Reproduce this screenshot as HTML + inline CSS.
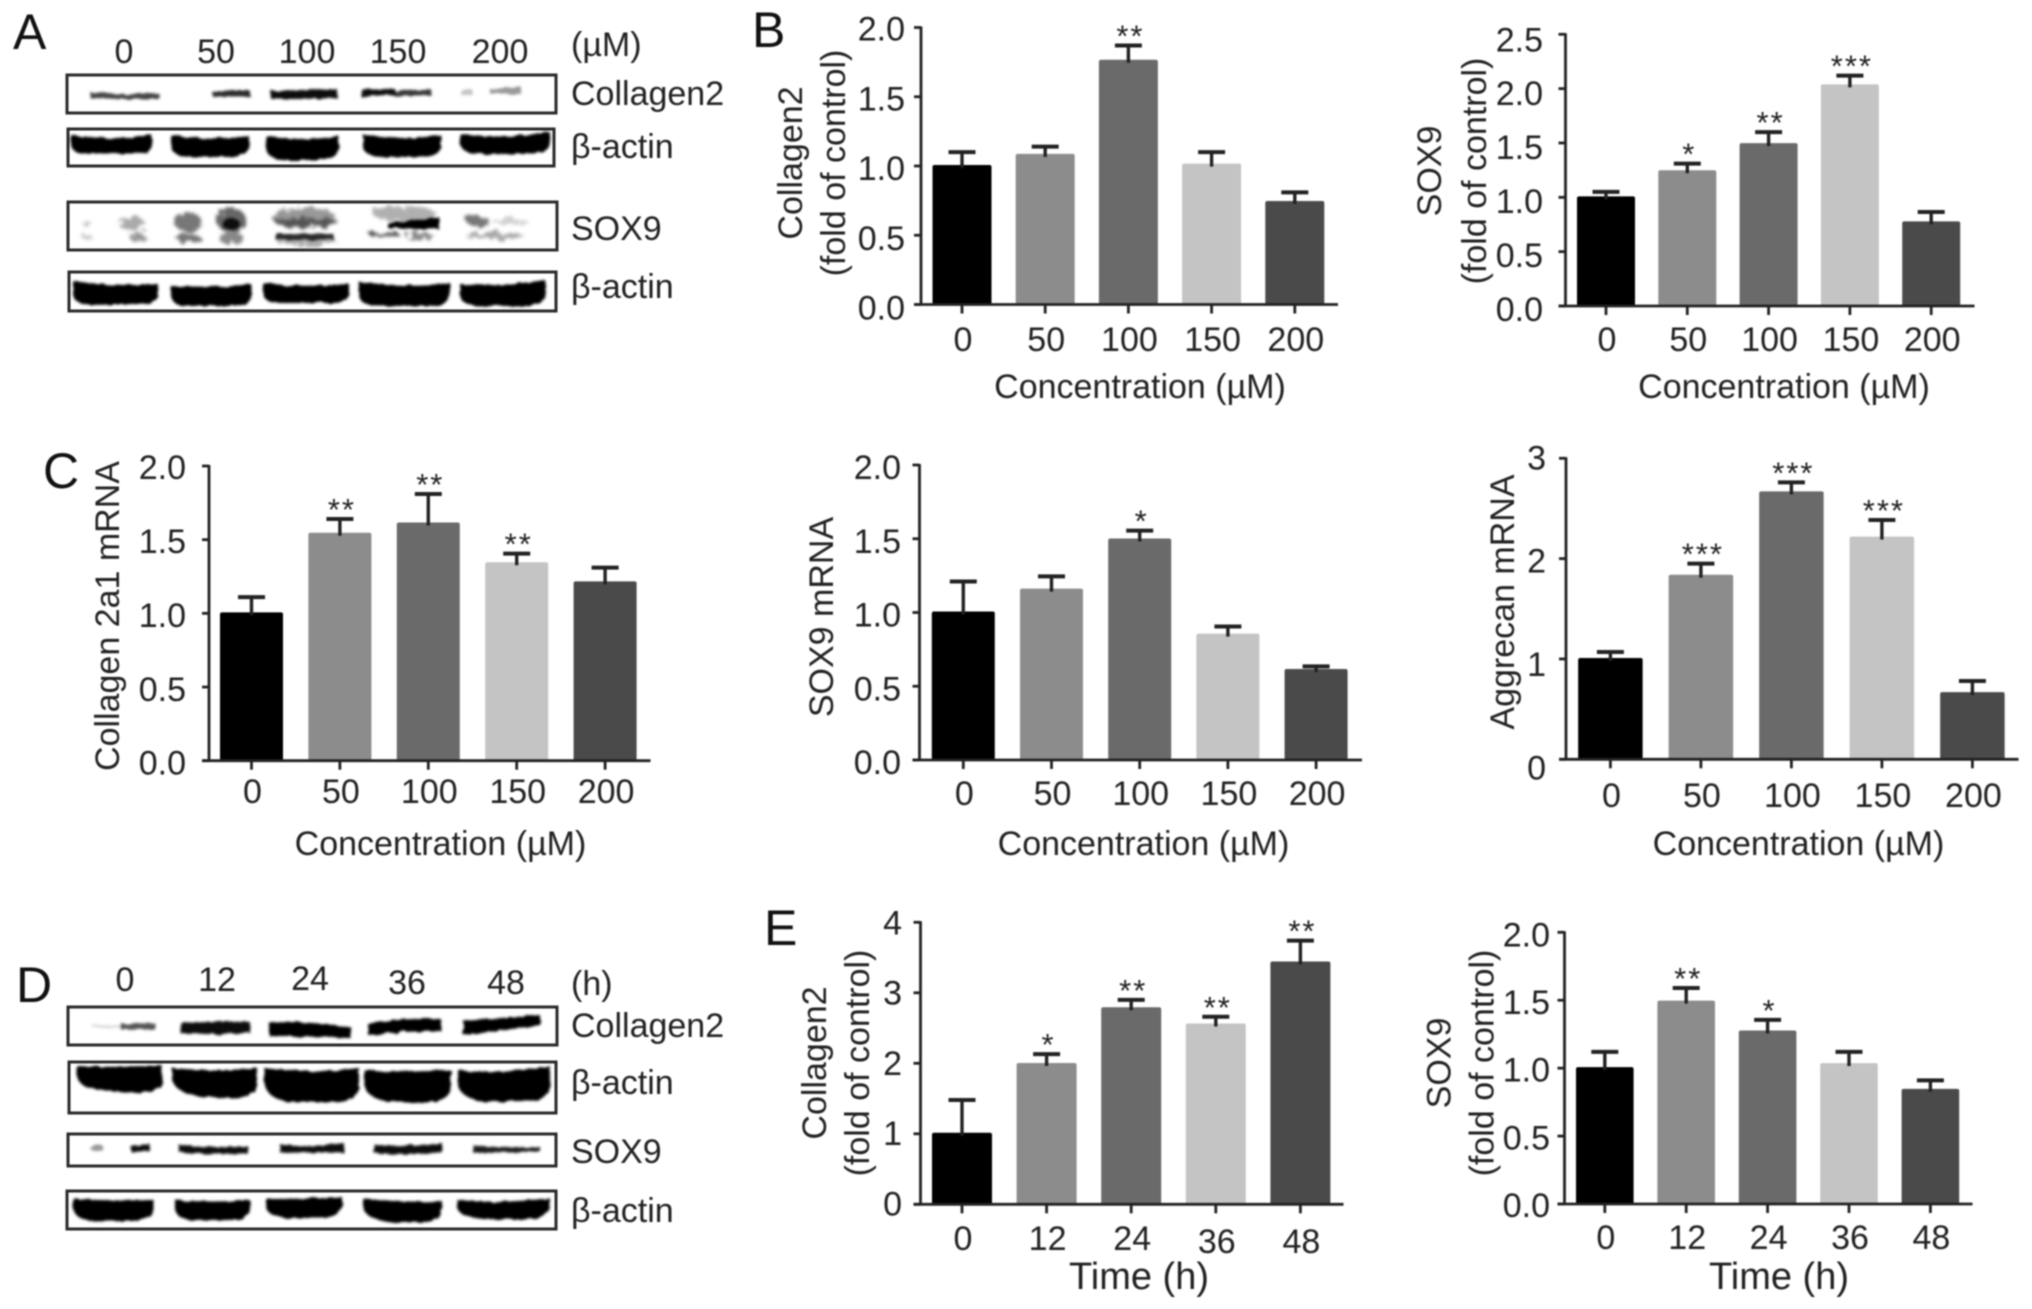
<!DOCTYPE html>
<html lang="en">
<head>
<meta charset="utf-8">
<title>Western blots and bar charts</title>
<style>
html,body{margin:0;padding:0;background:#fff;width:2032px;height:1309px;overflow:hidden}
svg{display:block;filter:blur(0.8px)}
text{font-family:"Liberation Sans",sans-serif;fill:#222}
.t{font-size:34px;dominant-baseline:central}
.p{font-size:50px;fill:#111}
.f{fill:#fff;stroke:#2a2a2a;stroke-width:3}
</style>
</head>
<body>
<svg id="fig" xmlns="http://www.w3.org/2000/svg" width="2032" height="1309" viewBox="0 0 2032 1309">
<defs>
<filter id="b1" x="-20%" y="-50%" width="140%" height="200%">
<feTurbulence type="fractalNoise" baseFrequency="0.12" numOctaves="2" seed="4" result="n"/>
<feDisplacementMap in="SourceGraphic" in2="n" scale="4" result="d"/>
<feGaussianBlur in="d" stdDeviation="1.3"/>
</filter>
<filter id="b2" x="-30%" y="-80%" width="160%" height="260%">
<feTurbulence type="fractalNoise" baseFrequency="0.14" numOctaves="3" seed="9" result="n"/>
<feDisplacementMap in="SourceGraphic" in2="n" scale="13" result="d"/>
<feGaussianBlur in="d" stdDeviation="1.7"/>
</filter>
</defs>
<rect width="2032" height="1309" fill="#fff"/>

<text class="p" x="13" y="49">A</text>
<text class="p" x="752" y="47">B</text>
<text class="p" x="43" y="488">C</text>
<text class="p" x="16" y="1002">D</text>
<text class="p" x="764" y="945">E</text>

<g>
<g text-anchor="middle">
<text class="t" x="124" y="52">0</text>
<text class="t" x="216" y="52">50</text>
<text class="t" x="307" y="52">100</text>
<text class="t" x="398" y="52">150</text>
<text class="t" x="500" y="52">200</text>
</g>
<text class="t" x="571" y="45">(µM)</text>
<text class="t" x="571" y="94">Collagen2</text>
<text class="t" x="571" y="147">β-actin</text>
<text class="t" x="571" y="229">SOX9</text>
<text class="t" x="571" y="287">β-actin</text>

<rect class="f" x="67" y="75" width="489" height="38"/>
<g filter="url(#b1)">
<path d="M90 92L125 94L159 93L159 99L125 99L90 98Z" fill="#444"/>
<path d="M212 92L232 90L250 90L250 97L232 97L212 96Z" fill="#2a2a2a"/>
<path d="M271 91L300 90L337 89L337 98L300 99L271 99Z" fill="#0a0a0a"/>
<path d="M361 89L395 89L395 95L361 97Z" fill="#0f0f0f"/>
<path d="M395 91L431 89L431 96L395 96Z" fill="#383838"/>
<path d="M461 90L473 90L473 95L461 95Z" fill="#c4c4c4"/>
<path d="M490 89L521 87L521 94L490 94Z" fill="#999"/>
</g>

<rect class="f" x="68" y="129" width="486" height="37"/>
<g filter="url(#b1)" fill="#050505">
<path d="M71 135Q111 141 152 135L152 144Q152 154 134 154L90 154Q71 154 71 144Z"/>
<path d="M171 135Q210 141 249 136L249 145Q249 157 228 157L192 157Q171 157 171 145Z"/>
<path d="M266 136Q302 142 339 136L339 147Q339 160 316 160L288 160Q266 160 266 147Z"/>
<path d="M363 135Q402 141 441 135L441 145Q441 157 420 157L384 157Q363 157 363 145Z"/>
<path d="M460 134Q505 139 550 132L550 142Q550 154 528 154L482 154Q460 154 460 142Z"/>
</g>

<rect class="f" x="68" y="202" width="489" height="48"/>
<g>
<g filter="url(#b2)">
<ellipse cx="88" cy="224" rx="5" ry="3" fill="#ccc"/>
<ellipse cx="132" cy="224" rx="13" ry="7" fill="#aaa"/>
<ellipse cx="88" cy="238" rx="5" ry="3" fill="#ccc"/>
<ellipse cx="138" cy="238" rx="8" ry="4" fill="#999"/>
<ellipse cx="188" cy="222" rx="13" ry="10" fill="#777"/>
<ellipse cx="231" cy="220" rx="15" ry="12" fill="#666"/>
<ellipse cx="188" cy="238" rx="13" ry="4" fill="#777"/>
<ellipse cx="231" cy="238" rx="12" ry="7" fill="#888"/>
<ellipse cx="305" cy="218" rx="32" ry="11" fill="#999"/>
<ellipse cx="305" cy="222" rx="30" ry="5" fill="#555"/>
<ellipse cx="305" cy="240" rx="30" ry="5" fill="#aaa"/>
<ellipse cx="405" cy="214" rx="32" ry="8" fill="#b0b0b0"/>
<ellipse cx="385" cy="235" rx="15" ry="3" fill="#555"/>
<ellipse cx="420" cy="236" rx="15" ry="3" fill="#888"/>
<ellipse cx="478" cy="221" rx="11" ry="6" fill="#777"/>
<ellipse cx="510" cy="222" rx="18" ry="3" fill="#d0d0d0"/>
<ellipse cx="495" cy="236" rx="29" ry="3" fill="#a8a8a8"/>
</g>
<g filter="url(#b1)">
<path d="M276 234L334 234L334 240L276 240Z" fill="#2a2a2a"/>
<ellipse cx="231" cy="224" rx="9" ry="6" fill="#111"/>
<path d="M388 223L410 221L439 217L439 229L388 228Z" fill="#050505"/>
</g>
</g>

<rect class="f" x="69" y="272" width="487" height="39"/>
<g filter="url(#b1)" fill="#050505">
<path d="M73 281Q115 287 158 284L158 294Q158 305 138 304L92 305Q73 305 73 293Z"/>
<path d="M171 286Q211 289 251 284L251 295Q251 306 232 306L190 306Q171 306 171 295Z"/>
<path d="M263 283Q306 288 349 284L349 293Q349 303 330 303L282 303Q263 303 263 293Z"/>
<path d="M359 282Q405 288 450 283L450 294Q450 306 430 306L379 306Q359 306 359 294Z"/>
<path d="M460 284Q500 287 545 280L545 294Q545 306 525 306L480 306Q460 306 460 294Z"/>
</g>
</g>

<g>
<g text-anchor="middle">
<text class="t" x="125" y="980">0</text>
<text class="t" x="217" y="980">12</text>
<text class="t" x="310" y="979">24</text>
<text class="t" x="407" y="983">36</text>
<text class="t" x="506" y="983">48</text>
</g>
<text class="t" x="571" y="984">(h)</text>
<text class="t" x="571" y="1026">Collagen2</text>
<text class="t" x="571" y="1083">β-actin</text>
<text class="t" x="571" y="1152">SOX9</text>
<text class="t" x="571" y="1211">β-actin</text>

<rect class="f" x="68" y="1007" width="489" height="38"/>
<g filter="url(#b1)">
<path d="M92 1025L121 1025L121 1028L92 1028Z" fill="#ddd"/>
<path d="M121 1024L155 1023L155 1029L121 1030Z" fill="#555"/>
<path d="M180 1023Q215 1020 250 1022L250 1033Q215 1035 180 1033Z" fill="#0a0a0a"/>
<path d="M269 1023Q300 1020 351 1027L351 1038Q300 1037 269 1036Z" fill="#050505"/>
<path d="M368 1023Q405 1017 441 1019L441 1031Q405 1031 368 1035Z" fill="#050505"/>
<path d="M463 1021Q500 1018 540 1015L540 1025Q500 1031 463 1035Z" fill="#050505"/>
</g>

<rect class="f" x="69" y="1062" width="487" height="51"/>
<g filter="url(#b1)" fill="#050505">
<path d="M77 1066Q120 1068 162 1065L162 1082Q160 1093 135 1093L100 1090Q79 1088 77 1076Z"/>
<path d="M172 1068Q215 1072 257 1068L257 1086Q255 1098 230 1098L198 1096Q172 1092 172 1076Z"/>
<path d="M264 1068Q310 1074 359 1068L359 1088Q357 1102 330 1102L290 1102Q264 1098 264 1080Z"/>
<path d="M364 1070Q408 1073 451 1070L451 1088Q449 1102 425 1102L390 1102Q364 1098 364 1082Z"/>
<path d="M458 1070Q505 1074 550 1066L550 1088Q548 1102 520 1101L485 1102Q458 1098 458 1082Z"/>
</g>

<rect class="f" x="68" y="1134" width="488" height="32"/>
<g filter="url(#b1)">
<ellipse cx="97" cy="1148" rx="7" ry="3" fill="#999"/>
<path d="M131 1147L150 1144L150 1151L131 1152Z" fill="#0a0a0a"/>
<path d="M179 1145Q215 1149 248 1146L248 1153Q215 1156 179 1152Z" fill="#111"/>
<path d="M280 1144Q310 1148 344 1143L344 1153Q310 1152 280 1153Z" fill="#0a0a0a"/>
<path d="M374 1144Q410 1147 442 1143L442 1152Q410 1157 374 1153Z" fill="#0a0a0a"/>
<path d="M473 1145Q510 1149 540 1147L540 1151Q510 1152 473 1153Z" fill="#1c1c1c"/>
</g>

<rect class="f" x="67" y="1191" width="489" height="38"/>
<g filter="url(#b1)" fill="#050505">
<path d="M73 1199Q112 1201 154 1200L154 1210Q152 1221 132 1221L94 1221Q73 1219 73 1207Z"/>
<path d="M175 1200Q212 1203 250 1200L250 1210Q248 1220 228 1220L195 1221Q175 1219 175 1208Z"/>
<path d="M266 1199Q304 1199 342 1197L342 1206Q340 1218 318 1218L288 1218Q266 1216 266 1206Z"/>
<path d="M363 1198Q400 1204 442 1201L442 1210Q440 1222 418 1222L390 1222Q363 1218 363 1206Z"/>
<path d="M457 1200Q505 1204 550 1198L550 1207Q548 1219 522 1219L485 1219Q457 1217 457 1206Z"/>
</g>
</g>

<g id="charts"></g>
</svg>

<script>
const concentrationLabels = ['0', '50', '100', '150', '200'];
const timeLabels = ['0', '12', '24', '36', '48'];
const fold2Ticks = ['0.0', '0.5', '1.0', '1.5', '2.0'];
const fold25Ticks = ['0.0', '0.5', '1.0', '1.5', '2.0', '2.5'];
const int3Ticks = ['0', '1', '2', '3'];
const int4Ticks = ['0', '1', '2', '3', '4'];

const collagenProteinValues = [1.0, 1.08, 1.76, 1.01, 0.74];
const collagenProteinErrorTops = [1.10, 1.14, 1.87, 1.10, 0.81];
const collagenProteinStars = ['', '', '**', '', ''];

const soxProteinValues = [1.0, 1.24, 1.49, 2.03, 0.77];
const soxProteinErrorTops = [1.05, 1.31, 1.60, 2.12, 0.865];
const soxProteinStars = ['', '*', '**', '***', ''];

const collagenMrnaValues = [1.0, 1.54, 1.61, 1.34, 1.21];
const collagenMrnaErrorTops = [1.11, 1.64, 1.81, 1.405, 1.31];
const collagenMrnaStars = ['', '**', '**', '**', ''];

const soxMrnaValues = [1.0, 1.155, 1.495, 0.85, 0.61];
const soxMrnaErrorTops = [1.21, 1.245, 1.555, 0.905, 0.635];
const soxMrnaStars = ['', '', '*', '', ''];

const aggrecanMrnaValues = [1.0, 1.83, 2.66, 2.21, 0.66];
const aggrecanMrnaErrorTops = [1.07, 1.95, 2.76, 2.385, 0.78];
const aggrecanMrnaStars = ['', '***', '***', '***', ''];

const collagenTimeValues = [1.0, 1.99, 2.78, 2.55, 3.43];
const collagenTimeErrorTops = [1.48, 2.13, 2.90, 2.66, 3.74];
const collagenTimeStars = ['', '*', '**', '**', '**'];

const soxTimeValues = [1.0, 1.49, 1.27, 1.03, 0.84];
const soxTimeErrorTops = [1.12, 1.59, 1.355, 1.12, 0.91];
const soxTimeStars = ['', '**', '*', '', ''];

const barColors = ['#000000', '#8c8c8c', '#6a6a6a', '#c4c4c4', '#4a4a4a'];

const SVGNS = 'http://www.w3.org/2000/svg';
const host = document.getElementById('charts');

function make(parent, tag, attrs, txt) {
  const el = document.createElementNS(SVGNS, tag);
  for (const k in attrs) el.setAttribute(k, attrs[k]);
  if (txt !== undefined) el.textContent = txt;
  parent.appendChild(el);
  return el;
}

function drawChart(name, categories, values, errorTops, stars, ticks, c) {
  const g = make(host, 'g', {});
  
  

  const vMax = parseFloat(ticks[ticks.length - 1]);
  const yScale = v => c.y0 - (v / vMax) * (c.y0 - c.yTop);
  const xScale = i => c.cx0 + i * c.step;
  const ink = '#222';

  categories.forEach((cat, i) => {
    const bar = make(g, 'rect', {
      x: xScale(i) - c.bw / 2, y: yScale(values[i]) - 1,
      width: c.bw, height: c.y0 - yScale(values[i]) + 1,
      rx: 2, fill: barColors[i]
    });
    
    

    const stem = make(g, 'line', {
      x1: xScale(i), x2: xScale(i), y1: yScale(values[i]) + 2, y2: yScale(errorTops[i]),
      stroke: ink, 'stroke-width': 3.4
    });
    
    

    const cap = make(g, 'line', {
      x1: xScale(i) - 13.5, x2: xScale(i) + 13.5, y1: yScale(errorTops[i]), y2: yScale(errorTops[i]),
      stroke: ink, 'stroke-width': 4
    });
    
    

    if (stars[i]) {
      const star = make(g, 'text', {
        x: xScale(i) + 2, y: yScale(errorTops[i]) + 1, 'text-anchor': 'middle',
        'font-size': 31, 'letter-spacing': 2
      }, stars[i]);
      
      
    }

    const tick = make(g, 'line', {
      x1: xScale(i), x2: xScale(i), y1: c.y0, y2: c.y0 + 9, stroke: ink, 'stroke-width': 2.8
    });
    
    

    const lab = make(g, 'text', {
      class: 't', x: xScale(i) + 1, y: c.xTickY + (c.xTickShift && i >= 3 ? c.xTickShift : 0), 'text-anchor': 'middle'
    }, cat);
    
    
  });

  const yAxis = make(g, 'line', {
    x1: c.ax, x2: c.ax, y1: c.yTop - 1, y2: c.y0 + 1, stroke: ink, 'stroke-width': 2.8
  });
  
  

  const xAxis = make(g, 'line', {
    x1: c.ax - 7, x2: c.xEnd, y1: c.y0, y2: c.y0, stroke: ink, 'stroke-width': 2.8
  });
  
  

  ticks.forEach((t) => {
    const v = parseFloat(t);
    const tk = make(g, 'line', {
      x1: c.ax - 7, x2: c.ax, y1: yScale(v), y2: yScale(v), stroke: ink, 'stroke-width': 2.8
    });
    
    

    const dy = c.dy0 + (c.dy1 - c.dy0) * (v / vMax);
    const lb = make(g, 'text', {
      class: 't', x: c.yLabelRight, y: yScale(v) + dy, 'text-anchor': 'end'
    }, t);
    
    
  });

  const xt = make(g, 'text', {
    class: 't', x: c.xTitleX, y: c.xTitleY, 'text-anchor': 'middle',
    style: 'font-size:' + (c.xTitleSize || 34) + 'px'
  }, c.xTitle);
  
  

  const yt = make(g, 'text', {
    class: 't', x: c.yTitleX, y: c.yTitleY, 'text-anchor': 'middle',
    transform: 'rotate(-90 ' + c.yTitleX + ' ' + c.yTitleY + ')'
  }, c.yTitle);
  
  

  if (c.yTitle2) {
    const yt2 = make(g, 'text', {
      class: 't', x: c.yTitle2X, y: c.yTitleY, 'text-anchor': 'middle',
      transform: 'rotate(-90 ' + c.yTitle2X + ' ' + c.yTitleY + ')'
    }, c.yTitle2);
    
    
  }
}

const concTitle = 'Concentration (µM)';
const foldTitle = '(fold of control)';

drawChart('chart-collagen2-protein', concentrationLabels, collagenProteinValues, collagenProteinErrorTops, collagenProteinStars, fold2Ticks, {
  ax: 921, y0: 304.5, yTop: 27.5, cx0: 962, step: 83.2, bw: 59, xEnd: 1338, xTickY: 340, yLabelRight: 905,
  dy0: 4, dy1: 2, xTitle: concTitle, xTitleX: 1140, xTitleY: 387,
  yTitle: 'Collagen2', yTitleX: 791, yTitle2: foldTitle, yTitle2X: 834, yTitleY: 163
});
drawChart('chart-sox9-protein', concentrationLabels, soxProteinValues, soxProteinErrorTops, soxProteinStars, fold25Ticks, {
  ax: 1565.5, y0: 306, yTop: 34.3, cx0: 1606, step: 81.3, bw: 58, xEnd: 1974.5, xTickY: 340, yLabelRight: 1543,
  dy0: 4, dy1: 6, xTitle: concTitle, xTitleX: 1784, xTitleY: 387,
  yTitle: 'SOX9', yTitleX: 1430, yTitle2: foldTitle, yTitle2X: 1475, yTitleY: 171
});
drawChart('chart-collagen-2a1-mrna', concentrationLabels, collagenMrnaValues, collagenMrnaErrorTops, collagenMrnaStars, fold2Ticks, {
  ax: 209, y0: 760.7, yTop: 466, cx0: 251.5, step: 88.4, bw: 63, xEnd: 650.5, xTickY: 792, yLabelRight: 186,
  dy0: 3, dy1: 2, xTitle: concTitle, xTitleX: 440.5, xTitleY: 844,
  yTitle: 'Collagen 2a1 mRNA', yTitleX: 108, yTitleY: 616
});
drawChart('chart-sox9-mrna', concentrationLabels, soxMrnaValues, soxMrnaErrorTops, soxMrnaStars, fold2Ticks, {
  ax: 919.5, y0: 760, yTop: 465, cx0: 963.3, step: 88.2, bw: 63, xEnd: 1362, xTickY: 794, yLabelRight: 901,
  dy0: 3, dy1: 3, xTitle: concTitle, xTitleX: 1143.5, xTitleY: 844,
  yTitle: 'SOX9 mRNA', yTitleX: 822, yTitleY: 617
});
drawChart('chart-aggrecan-mrna', concentrationLabels, aggrecanMrnaValues, aggrecanMrnaErrorTops, aggrecanMrnaStars, int3Ticks, {
  ax: 1566, y0: 759.3, yTop: 458.3, cx0: 1610.4, step: 90.5, bw: 64.5, xEnd: 2018.5, xTickY: 796, yLabelRight: 1546,
  dy0: 9, dy1: 0, xTitle: concTitle, xTitleX: 1798.5, xTitleY: 844,
  yTitle: 'Aggrecan mRNA', yTitleX: 1503, yTitleY: 602
});
drawChart('chart-collagen2-time', timeLabels, collagenTimeValues, collagenTimeErrorTops, collagenTimeStars, int4Ticks, {
  ax: 920.5, y0: 1204.3, yTop: 922.3, cx0: 962, step: 84.6, bw: 60, xEnd: 1343.5, xTickY: 1239, xTickShift: 3, yLabelRight: 902,
  dy0: 0, dy1: 1, xTitle: 'Time (h)', xTitleSize: 38, xTitleX: 1139, xTitleY: 1277,
  yTitle: 'Collagen2', yTitleX: 815, yTitle2: foldTitle, yTitle2X: 858, yTitleY: 1063
});
drawChart('chart-sox9-time', timeLabels, soxTimeValues, soxTimeErrorTops, soxTimeStars, fold2Ticks, {
  ax: 1564.5, y0: 1204, yTop: 932.3, cx0: 1604.8, step: 81.4, bw: 57.6, xEnd: 1972.5, xTickY: 1238, yLabelRight: 1550,
  dy0: 2, dy1: 3, xTitle: 'Time (h)', xTitleSize: 38, xTitleX: 1779, xTitleY: 1277,
  yTitle: 'SOX9', yTitleX: 1439.5, yTitle2: foldTitle, yTitle2X: 1482.5, yTitleY: 1063
});
</script>
</body>
</html>
